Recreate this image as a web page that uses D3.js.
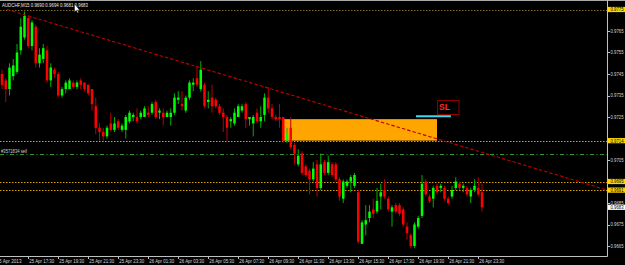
<!DOCTYPE html>
<html><head><meta charset="utf-8">
<script src="https://cdn.jsdelivr.net/npm/d3@7"></script>
<style>html,body{margin:0;padding:0;background:#000;overflow:hidden}svg{display:block}</style>
</head><body><svg id="c" width="625" height="265"></svg>
<script>
const symbol = "AUDCHF,M15";
const open = [.9745,.9742,.9738,.9744,.9746,.9756,.9762,.9771,.9758,.9767,.9750,.9752,.9756,.9742,.9747,.9745,.9735,.9738,.9738,.9741,.9739,.9742,.9741,.9740,.9738,.9730,.9720,.9718,.9716,.9722,.9719,.9723,.9719,.9719,.9723,.9725,.9725,.9725,.9725,.9727,.9727,.9732,.9727,.9727,.9725,.9725,.9727,.9733,.9731,.9728,.9734,.9740,.9743,.9738,.9740,.9732,.9734,.9733,.9730,.9727,.9725,.9723,.9722,.9725,.9728,.9731,.9724,.9722,.9727,.9723,.9726,.9734,.9729,.9725,.9725,.9725,.9714,.9720,.9712,.9703,.9708,.9702,.9700,.9696,.9703,.9692,.9704,.9699,.9703,.9703,.9696,.9687,.9693,.9695,.9693,.9690,.9666,.9675,.9678,.9682,.9681,.9688,.9691,.9687,.9681,.9684,.9684,.9682,.9674,.9670,.9665,.9674,.9679,.9695,.9688,.9687,.9693,.9692,.9692,.9687,.9688,.9692,.9694,.9692,.9692,.9688,.9691,.9692,.9690];
const high = [.9747,.9743,.9750,.9752,.9759,.9771,.9774,.9772,.9770,.9768,.9757,.9759,.9758,.9750,.9748,.9746,.9739,.9742,.9743,.9742,.9742,.9743,.9741,.9740,.9738,.9734,.9722,.9720,.9721,.9727,.9725,.9724,.9722,.9726,.9728,.9727,.9729,.9728,.9730,.9730,.9732,.9733,.9729,.9729,.9728,.9729,.9736,.9737,.9737,.9735,.9742,.9743,.9749,.9751,.9741,.9737,.9740,.9734,.9731,.9729,.9726,.9725,.9729,.9731,.9731,.9732,.9725,.9726,.9729,.9730,.9736,.9739,.9731,.9726,.9731,.9725,.9720,.9725,.9713,.9710,.9709,.9703,.9701,.9704,.9705,.9708,.9705,.9707,.9704,.9704,.9697,.9696,.9696,.9698,.9699,.9691,.9677,.9684,.9684,.9687,.9692,.9694,.9696,.9688,.9684,.9685,.9685,.9683,.9676,.9671,.9676,.9679,.9698,.9696,.9689,.9693,.9694,.9694,.9693,.9688,.9693,.9697,.9695,.9694,.9693,.9692,.9696,.9697,.9694];
const low = [.9738,.9732,.9735,.9742,.9745,.9754,.9761,.9757,.9756,.9748,.9748,.9750,.9741,.9739,.9743,.9734,.9734,.9736,.9738,.9738,.9738,.9738,.9737,.9735,.9728,.9717,.9714,.9714,.9715,.9718,.9718,.9719,.9718,.9715,.9722,.9723,.9722,.9724,.9725,.9725,.9726,.9724,.9724,.9721,.9725,.9721,.9726,.9731,.9728,.9727,.9733,.9737,.9739,.9737,.9729,.9729,.9727,.9729,.9726,.9718,.9714,.9720,.9721,.9725,.9727,.9720,.9721,.9716,.9722,.9720,.9723,.9727,.9724,.9723,.9720,.9713,.9713,.9710,.9703,.9702,.9698,.9697,.9689,.9695,.9688,.9691,.9698,.9698,.9697,.9695,.9686,.9685,.9692,.9690,.9692,.9666,.9666,.9670,.9676,.9678,.9680,.9682,.9687,.9681,.9674,.9680,.9679,.9674,.9668,.9664,.9664,.9673,.9678,.9688,.9685,.9683,.9689,.9690,.9686,.9684,.9687,.9691,.9691,.9690,.9688,.9685,.9690,.9688,.9681];
const close = [.9740,.9738,.9748,.9749,.9755,.9767,.9772,.9758,.9769,.9750,.9754,.9757,.9742,.9748,.9745,.9735,.9738,.9741,.9742,.9739,.9741,.9740,.9738,.9736,.9731,.9720,.9718,.9716,.9720,.9719,.9722,.9720,.9721,.9725,.9727,.9726,.9723,.9727,.9729,.9726,.9731,.9725,.9728,.9725,.9727,.9727,.9734,.9734,.9730,.9734,.9741,.9741,.9740,.9747,.9730,.9733,.9730,.9730,.9727,.9725,.9720,.9724,.9727,.9730,.9730,.9724,.9725,.9725,.9723,.9725,.9734,.9729,.9725,.9724,.9724,.9714,.9717,.9711,.9708,.9707,.9699,.9698,.9696,.9701,.9692,.9703,.9699,.9704,.9698,.9696,.9688,.9695,.9695,.9697,.9698,.9667,.9676,.9677,.9681,.9680,.9686,.9690,.9688,.9682,.9683,.9681,.9680,.9675,.9671,.9665,.9675,.9678,.9694,.9689,.9686,.9692,.9690,.9693,.9687,.9685,.9691,.9695,.9692,.9693,.9689,.9691,.9693,.9689,.9683];

const timeTickIndex = [0,7,15,23,31,39,47,55,63,71,79,87,95,103,111,119,127];
const timeTickLabels = ["25 Apr 2013","25 Apr 17:30","25 Apr 19:30","25 Apr 21:30","25 Apr 23:30","26 Apr 01:30","26 Apr 03:30","26 Apr 05:30","26 Apr 07:30","26 Apr 09:30","26 Apr 11:30","26 Apr 13:30","26 Apr 15:30","26 Apr 17:30","26 Apr 19:30","26 Apr 21:30","26 Apr 23:30"];
const priceTicks = [0.9765,0.9755,0.9745,0.9735,0.9725,0.9705,0.9685,0.9675,0.9665];
const levelPrices = [0.9775,0.9714,0.9695,0.9691];
const orderPrice = 0.97077;
const orderLabel = "#3571834 sell";
const zoneIndex = [74.7,116];
const zonePrice = [0.9724,0.9714];
const trendIndex = [1.3,150];
const trendPrice = [0.9775,0.9697];
const slIndex = [110.4,119.7];
const slPrice = 0.97253;
const slText = "SL";

const svg = d3.select("#c");
const W = 625, H = 265, plotR = 607.5, plotB = 256.5;
const n = open.length;
const x = d3.scaleLinear().domain([0, n-1]).range([2, 482]);
const y = d3.scaleLinear().domain([0.9665, 0.9775]).range([246, 9.5]);
const font = "'Liberation Sans', Arial, sans-serif";

svg.append("rect").attr("width",W).attr("height",H).attr("fill","#000");
const plot = svg.append("g");
plot.append("clipPath").attr("id","clip").append("rect").attr("x",0).attr("y",0).attr("width",plotR).attr("height",plotB);
const pg = plot.append("g").attr("clip-path","url(#clip)");

// zone rectangle (background)
pg.append("rect")
  .attr("x", x(zoneIndex[0])).attr("width", x(zoneIndex[1]) - x(zoneIndex[0]))
  .attr("y", y(zonePrice[0])).attr("height", y(zonePrice[1]) - y(zonePrice[0]))
  .attr("fill", "#ffa500");

// horizontal level lines
pg.selectAll("line.lvl").data(levelPrices).join("line")
  .attr("x1",0).attr("x2",plotR)
  .attr("y1", d=>Math.round(y(d))+0.5).attr("y2", d=>Math.round(y(d))+0.5)
  .attr("stroke", (d,i)=> i===0 ? "#7d6a2a" : "#d8a400")
  .attr("stroke-width",1).attr("stroke-dasharray","1.5,1.5");

// order line
pg.append("line").attr("x1",0).attr("x2",plotR)
  .attr("y1", Math.round(y(orderPrice))+0.5).attr("y2", Math.round(y(orderPrice))+0.5)
  .attr("stroke","#2e9a2e").attr("stroke-width",1).attr("stroke-dasharray","4,2.5,1,2.5");
svg.append("text").attr("x",1).attr("y", y(orderPrice)-1.3)
  .attr("fill","#d0d0d0").attr("font-family",font).attr("font-size",5.2)
  .attr("textLength",26).attr("lengthAdjust","spacingAndGlyphs").text(orderLabel);

// candles
const bars = d3.range(n).map(i => ({i, o:open[i], h:high[i], l:low[i], c:close[i]}));
pg.selectAll("line.wick").data(bars).join("line")
  .attr("x1", d=>x(d.i)).attr("x2", d=>x(d.i))
  .attr("y1", d=>y(d.h)).attr("y2", d=>y(d.l))
  .attr("stroke", d=> d.c>=d.o ? "#00b000" : "#b80000").attr("stroke-width",1);
pg.selectAll("rect.body").data(bars).join("rect")
  .attr("x", d=>x(d.i)-1.25).attr("width",2.5)
  .attr("y", d=>y(Math.max(d.o,d.c)))
  .attr("height", d=>Math.max(1, Math.abs(y(d.o)-y(d.c))))
  .attr("fill", d=> d.c>=d.o ? "#00ff00" : "#ff0000");

// trend line (ray to the right)
const slope = (y(trendPrice[1]) - y(trendPrice[0])) / (x(trendIndex[1]) - x(trendIndex[0]));
pg.append("line")
  .attr("x1", x(trendIndex[0])).attr("y1", y(trendPrice[0]))
  .attr("x2", plotR).attr("y2", y(trendPrice[0]) + slope*(plotR - x(trendIndex[0])))
  .attr("stroke","#c00000").attr("stroke-width",1.1).attr("stroke-dasharray","3.5,2");

// SL segment
pg.append("line").attr("x1", x(slIndex[0])).attr("x2", x(slIndex[1]))
  .attr("y1", y(slPrice)).attr("y2", y(slPrice))
  .attr("stroke","#40d8e8").attr("stroke-width",2);
pg.append("rect").attr("x",437.5).attr("y",100.5).attr("width",21.5).attr("height",14)
  .attr("fill","none").attr("stroke","#8a0000").attr("stroke-width",1);
pg.append("text").attr("x",439).attr("y",109.7).attr("fill","#ff2a2a")
  .attr("font-family",font).attr("font-weight","bold").attr("font-size",8.5).text(slText);

// frame
svg.append("line").attr("x1",0).attr("x2",W).attr("y1",0.5).attr("y2",0.5).attr("stroke","#a8a8a8");
svg.append("line").attr("x1",plotR).attr("x2",plotR).attr("y1",0).attr("y2",plotB).attr("stroke","#c0c0c0");
svg.append("line").attr("x1",0).attr("x2",plotR).attr("y1",plotB).attr("y2",plotB).attr("stroke","#c0c0c0");

// price axis
const ya = svg.append("g");
ya.selectAll("line").data(priceTicks).join("line")
  .attr("x1",plotR).attr("x2",plotR+2.5).attr("y1",d=>Math.round(y(d))+0.5).attr("y2",d=>Math.round(y(d))+0.5)
  .attr("stroke","#c0c0c0");
ya.selectAll("text").data(priceTicks).join("text")
  .attr("x",610.5).attr("y",d=>y(d)+1.9).attr("fill","#d8d8d8")
  .attr("font-family",font).attr("font-size",5.2)
  .attr("textLength",13).attr("lengthAdjust","spacingAndGlyphs")
  .text(d=>d.toFixed(4));
// highlighted level labels
const lv = svg.append("g");
lv.selectAll("rect").data(levelPrices).join("rect")
  .attr("x",608).attr("width",17).attr("y",d=>y(d)-2.6).attr("height",5.2).attr("fill","#ffd700");
lv.selectAll("text").data(levelPrices).join("text")
  .attr("x",610.5).attr("y",d=>y(d)+1.9).attr("fill","#000")
  .attr("font-family",font).attr("font-size",5.2)
  .attr("textLength",13).attr("lengthAdjust","spacingAndGlyphs")
  .text(d=>d.toFixed(4));
// current price label
const last = close[n-1];
svg.append("rect").attr("x",608).attr("width",17).attr("y",y(last)-2.6).attr("height",5.2).attr("fill","#fff");
svg.append("text").attr("x",610.5).attr("y",y(last)+1.9).attr("fill","#000")
  .attr("font-family",font).attr("font-size",5.2)
  .attr("textLength",13).attr("lengthAdjust","spacingAndGlyphs").text(last.toFixed(4));

// time axis
const xa = svg.append("g");
xa.selectAll("line").data(timeTickIndex.slice(1)).join("line")
  .attr("x1",d=>Math.round(x(d))+0.5).attr("x2",d=>Math.round(x(d))+0.5)
  .attr("y1",plotB).attr("y2",plotB+2.5).attr("stroke","#c0c0c0");
xa.selectAll("text").data(timeTickIndex).join("text")
  .attr("x",(d,i)=> i===0 ? -3.5 : x(d)+1)
  .attr("y",263).attr("fill","#d8d8d8")
  .attr("font-family",font).attr("font-size",5.6)
  .attr("textLength",25).attr("lengthAdjust","spacingAndGlyphs")
  .text((d,i)=>timeTickLabels[i]);

// header
const hi = n-1;
svg.append("text").attr("x",2).attr("y",6.8).attr("fill","#e8e8e8")
  .attr("font-family",font).attr("font-size",5.6)
  .attr("textLength",86).attr("lengthAdjust","spacingAndGlyphs")
  .text(`${symbol}  ${open[hi].toFixed(4)} ${high[hi].toFixed(4)} ${low[hi].toFixed(4)} ${close[hi].toFixed(4)}`);

// mouse cursor
svg.append("path").attr("d","M74.5,4 L74.5,12 L76.3,10.3 L77.6,13 L78.6,12.5 L77.4,9.9 L79.6,9.9 Z")
  .attr("fill","#fff").attr("stroke","#000").attr("stroke-width",0.4);
</script></body></html>
